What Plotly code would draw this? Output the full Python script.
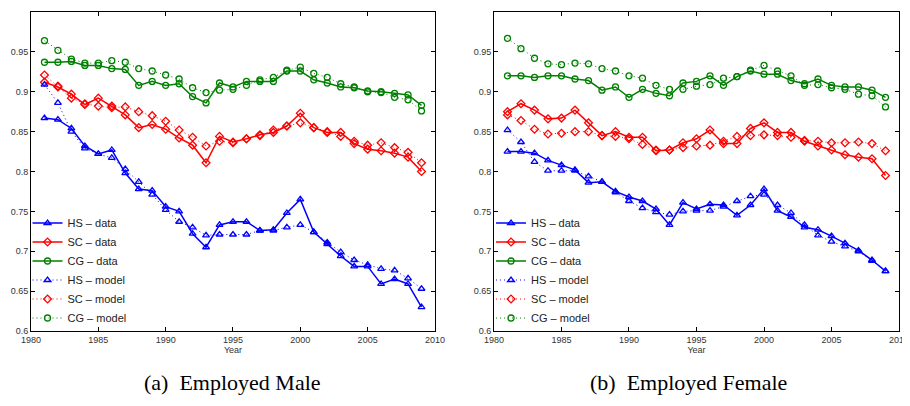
import plotly.graph_objects as go

years = list(range(1981, 2010))

# Employed Male
male_hs_data = [0.867, 0.865, 0.854, 0.832, 0.822, 0.827, 0.798, 0.778, 0.776, 0.756, 0.750, 0.722, 0.705, 0.733, 0.737, 0.737, 0.726, 0.727, 0.748, 0.765, 0.724, 0.709, 0.694, 0.681, 0.681, 0.659, 0.665, 0.659, 0.630]
male_sc_data = [0.912, 0.906, 0.897, 0.884, 0.892, 0.882, 0.871, 0.855, 0.859, 0.853, 0.842, 0.833, 0.811, 0.844, 0.837, 0.841, 0.846, 0.849, 0.857, 0.873, 0.855, 0.849, 0.849, 0.835, 0.828, 0.826, 0.823, 0.818, 0.800]
male_cg_data = [0.937, 0.937, 0.938, 0.933, 0.933, 0.929, 0.928, 0.908, 0.913, 0.908, 0.910, 0.894, 0.886, 0.911, 0.906, 0.913, 0.913, 0.913, 0.926, 0.926, 0.915, 0.911, 0.906, 0.905, 0.901, 0.900, 0.898, 0.896, 0.883]
male_hs_model = [0.909, 0.886, 0.850, 0.829, 0.822, 0.817, 0.803, 0.787, 0.771, 0.752, 0.737, 0.730, 0.720, 0.721, 0.721, 0.721, 0.726, 0.726, 0.730, 0.733, 0.724, 0.711, 0.699, 0.689, 0.683, 0.678, 0.676, 0.666, 0.653]
male_sc_model = [0.921, 0.907, 0.892, 0.885, 0.882, 0.880, 0.881, 0.875, 0.870, 0.863, 0.852, 0.843, 0.832, 0.838, 0.836, 0.841, 0.845, 0.852, 0.857, 0.861, 0.855, 0.850, 0.844, 0.838, 0.833, 0.836, 0.830, 0.824, 0.811]
male_cg_model = [0.964, 0.952, 0.941, 0.936, 0.936, 0.939, 0.937, 0.929, 0.926, 0.921, 0.916, 0.905, 0.899, 0.902, 0.903, 0.908, 0.915, 0.918, 0.927, 0.931, 0.923, 0.918, 0.910, 0.906, 0.900, 0.899, 0.893, 0.890, 0.876]

# Employed Female
female_hs_data = [0.825, 0.825, 0.823, 0.814, 0.808, 0.802, 0.786, 0.787, 0.775, 0.768, 0.763, 0.753, 0.733, 0.761, 0.753, 0.759, 0.758, 0.745, 0.758, 0.778, 0.751, 0.743, 0.730, 0.727, 0.719, 0.710, 0.701, 0.689, 0.675]
female_sc_data = [0.875, 0.885, 0.877, 0.866, 0.867, 0.877, 0.861, 0.845, 0.850, 0.843, 0.843, 0.826, 0.827, 0.836, 0.841, 0.852, 0.835, 0.835, 0.854, 0.861, 0.849, 0.849, 0.838, 0.832, 0.827, 0.821, 0.818, 0.816, 0.795]
female_cg_data = [0.920, 0.920, 0.918, 0.920, 0.920, 0.916, 0.914, 0.902, 0.906, 0.893, 0.903, 0.898, 0.895, 0.911, 0.913, 0.920, 0.908, 0.919, 0.926, 0.922, 0.922, 0.914, 0.910, 0.916, 0.908, 0.906, 0.906, 0.902, 0.893]
female_hs_model = [0.852, 0.837, 0.812, 0.801, 0.801, 0.801, 0.794, 0.787, 0.774, 0.763, 0.754, 0.749, 0.746, 0.750, 0.751, 0.751, 0.756, 0.763, 0.769, 0.771, 0.758, 0.748, 0.733, 0.720, 0.712, 0.706, 0.700, 0.688, 0.675]
female_sc_model = [0.871, 0.864, 0.853, 0.847, 0.848, 0.850, 0.850, 0.845, 0.844, 0.841, 0.834, 0.827, 0.827, 0.830, 0.832, 0.833, 0.838, 0.844, 0.845, 0.846, 0.845, 0.843, 0.839, 0.838, 0.836, 0.836, 0.837, 0.835, 0.826]
female_cg_model = [0.967, 0.954, 0.942, 0.935, 0.934, 0.936, 0.935, 0.929, 0.926, 0.920, 0.917, 0.908, 0.903, 0.903, 0.907, 0.909, 0.917, 0.919, 0.927, 0.933, 0.926, 0.920, 0.908, 0.909, 0.905, 0.903, 0.897, 0.895, 0.881]

x_ticks = [1980, 1985, 1990, 1995, 2000, 2005, 2010]
y_ticks = [0.6, 0.65, 0.7, 0.75, 0.8, 0.85, 0.9, 0.95, 1.0]
y_tick_labels = ["0.6", "0.65", "0.7", "0.75", "0.8", "0.85", "0.9", "0.95", "1"]
captions = ["(a)  Employed Male", "(b)  Employed Female"]

BLUE, RED, GREEN = "#0000ff", "#ff0000", "#008000"

fig = go.Figure()

panels = [
    ("x", "y", "legend", [male_hs_data, male_sc_data, male_cg_data], [male_hs_model, male_sc_model, male_cg_model]),
    ("x2", "y2", "legend2", [female_hs_data, female_sc_data, female_cg_data], [female_hs_model, female_sc_model, female_cg_model]),
]
names = ["HS", "SC", "CG"]
colors = [BLUE, RED, GREEN]
symbols = ["triangle-up-open", "diamond-open", "circle-open"]

for xa, ya, lg, data, model in panels:
    for n, c, s, d in zip(names, colors, symbols, data):
        fig.add_trace(go.Scatter(
            x=years, y=d, mode="lines+markers", name=f"{n} – data",
            line=dict(color=c, width=1.5),
            marker=dict(symbol=s, size=6, color=c, line=dict(width=1.3, color=c)),
            xaxis=xa, yaxis=ya, legend=lg))
    for n, c, s, m in zip(names, colors, symbols, model):
        fig.add_trace(go.Scatter(
            x=years, y=m, mode="lines+markers", name=f"{n} – model",
            line=dict(color=c, width=1, dash="1px,3px"),
            marker=dict(symbol=s, size=6, color=c, line=dict(width=1.3, color=c)),
            xaxis=xa, yaxis=ya, legend=lg))

tick_font = dict(family="Liberation Sans, Arial", size=9, color="#333333")
axis_common = dict(
    showline=True, linecolor="black", linewidth=1, mirror="ticks",
    ticks="inside", ticklen=4, tickcolor="black", showgrid=False, zeroline=False,
    tickfont=tick_font,
)
legend_common = dict(xanchor="left", yanchor="top", bgcolor="rgba(0,0,0,0)",
                     font=dict(family="Liberation Sans, Arial", size=11, color="#222222"),
                     tracegroupgap=0, itemwidth=30)
cap_font = dict(family="Liberation Serif, Times New Roman", size=22, color="black")

fig.update_layout(
    width=910, height=406,
    margin=dict(l=23, r=19, t=4, b=83),
    paper_bgcolor="white", plot_bgcolor="white",
    showlegend=True,
    xaxis=dict(domain=[0, 0.4654], range=[1980, 2010], tickvals=x_ticks,
               title=dict(text="Year", font=tick_font, standoff=2), **axis_common),
    yaxis=dict(domain=[0, 1], range=[0.6, 1.0], tickvals=y_ticks, ticktext=y_tick_labels, **axis_common),
    xaxis2=dict(domain=[0.5334, 1.0], range=[1980, 2010], tickvals=x_ticks, anchor="y2",
                title=dict(text="Year", font=tick_font, standoff=2), **axis_common),
    yaxis2=dict(domain=[0, 1], range=[0.6, 1.0], tickvals=y_ticks, ticktext=y_tick_labels, anchor="x2", **axis_common),
    legend=dict(x=-0.004, y=0.384, **legend_common),
    legend2=dict(x=0.530, y=0.384, **legend_common),
    annotations=[
        dict(text=captions[0], x=0.2327, y=-0.163, xref="paper", yref="paper", showarrow=False,
             xanchor="center", yanchor="middle", font=cap_font),
        dict(text=captions[1], x=0.757, y=-0.163, xref="paper", yref="paper", showarrow=False,
             xanchor="center", yanchor="middle", font=cap_font),
    ],
)

fig.write_html("out.html")
